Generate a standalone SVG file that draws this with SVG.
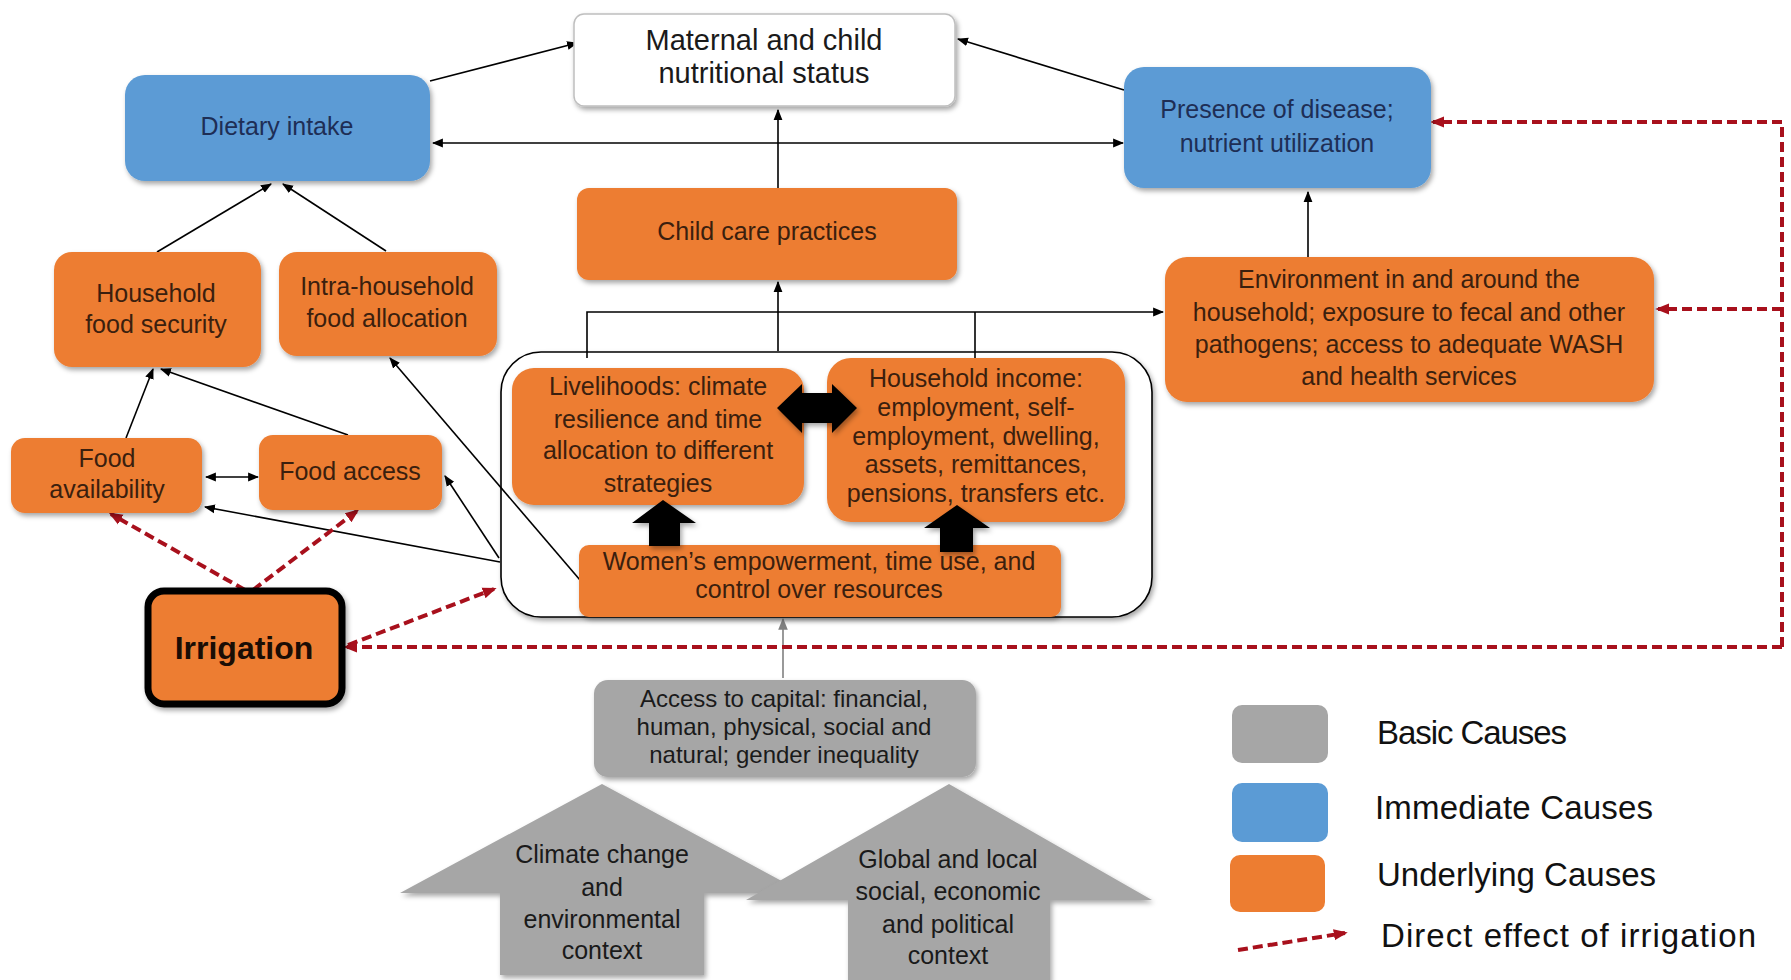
<svg xmlns="http://www.w3.org/2000/svg" width="1791" height="980" viewBox="0 0 1791 980">
<style>
text{font-family:"Liberation Sans",Arial,sans-serif}
.t{font-size:25px;fill:#3b1f0e;text-anchor:middle}
.tn{font-size:25px;fill:#1e2e55;text-anchor:middle}
.tg{font-size:24px;fill:#1a1a1a;text-anchor:middle}
.o{fill:#ed7d31;filter:url(#sh)}
.b{fill:#5b9bd5;filter:url(#sh)}
.g{fill:#a6a6a6;filter:url(#sh)}
.c{stroke:#000;stroke-width:1.6;fill:none}
.d{stroke:#a8101c;stroke-width:4;stroke-dasharray:10 5;fill:none}
.lg{font-size:33px;fill:#111}
</style>
<defs>
<filter id="sh" x="-10%" y="-10%" width="120%" height="130%">
<feDropShadow dx="2" dy="3" stdDeviation="2.5" flood-color="#000" flood-opacity="0.35"/>
</filter>
<marker id="ah" viewBox="0 0 10 10" refX="9" refY="5" markerWidth="11" markerHeight="11" markerUnits="userSpaceOnUse" orient="auto-start-reverse"><path d="M0,1 L10,5 L0,9z" fill="#000"/></marker>
<marker id="ag" viewBox="0 0 10 10" refX="9" refY="5" markerWidth="12" markerHeight="12" markerUnits="userSpaceOnUse" orient="auto-start-reverse"><path d="M0,1 L10,5 L0,9z" fill="#808080"/></marker>
<marker id="ar" viewBox="0 0 10 10" refX="8" refY="5" markerWidth="14" markerHeight="14" markerUnits="userSpaceOnUse" orient="auto-start-reverse"><path d="M0,1 L10,5 L0,9z" fill="#a8101c"/></marker>
</defs>
<rect width="1791" height="980" fill="#fff"/>

<g id="container"><rect x="501" y="352" width="651" height="265" rx="40" fill="#fff" stroke="#000" stroke-width="1.6" filter="url(#sh)"/></g>

<g id="connectors">
<line class="c" x1="430" y1="81" x2="577" y2="43" marker-end="url(#ah)"/>
<line class="c" x1="1124" y1="90" x2="958" y2="39" marker-end="url(#ah)"/>
<line class="c" x1="433" y1="143" x2="1123" y2="143" marker-start="url(#ah)" marker-end="url(#ah)"/>
<line class="c" x1="778" y1="188" x2="778" y2="110" marker-end="url(#ah)"/>
<line class="c" x1="778" y1="351" x2="778" y2="282" marker-end="url(#ah)"/>
<path class="c" d="M587,358 V312 H1163" marker-end="url(#ah)"/>
<path class="c" d="M975,312 V358"/>
<line class="c" x1="1308" y1="257" x2="1308" y2="192" marker-end="url(#ah)"/>
<line class="c" x1="157" y1="252" x2="271" y2="184" marker-end="url(#ah)"/>
<line class="c" x1="386" y1="251" x2="283" y2="184" marker-end="url(#ah)"/>
<line class="c" x1="126" y1="438" x2="153" y2="369" marker-end="url(#ah)"/>
<line class="c" x1="348" y1="435" x2="161" y2="369" marker-end="url(#ah)"/>
<line class="c" x1="206" y1="477" x2="258" y2="477" marker-start="url(#ah)" marker-end="url(#ah)"/>
<line class="c" x1="500" y1="562" x2="205" y2="507" marker-end="url(#ah)"/>
<line class="c" x1="499" y1="558" x2="445" y2="476" marker-end="url(#ah)"/>
<line class="c" x1="580" y1="580" x2="390" y2="358" marker-end="url(#ah)"/>
<line x1="783" y1="678" x2="783" y2="619" stroke="#808080" stroke-width="1.6" marker-end="url(#ag)"/>
<line class="d" x1="245" y1="590" x2="111" y2="514" marker-end="url(#ar)"/>
<line class="d" x1="253" y1="590" x2="357" y2="511" marker-end="url(#ar)"/>
<line class="d" x1="348" y1="645" x2="494" y2="589" marker-end="url(#ar)"/>
<path class="d" d="M1782,647 H346" marker-end="url(#ar)"/>
<path class="d" d="M1782,647 V122 H1433" marker-end="url(#ar)"/>
<path class="d" d="M1782,309 H1658" marker-end="url(#ar)"/>
</g>

<g id="maternal"><rect x="574" y="14" width="381" height="92" rx="10" fill="#fff" stroke="#bfbfbf" stroke-width="1.5" filter="url(#sh)"/>
<text x="764" y="50" style="font-size:29px;fill:#1a1a1a;text-anchor:middle">Maternal and child</text>
<text x="764" y="83" style="font-size:29px;fill:#1a1a1a;text-anchor:middle">nutritional status</text></g>

<g id="dietary"><rect class="b" x="125" y="75" width="305" height="106" rx="20"/>
<text class="tn" x="277" y="135">Dietary intake</text></g>

<g id="presence"><rect class="b" x="1124" y="67" width="307" height="121" rx="20"/>
<text class="tn" x="1277" y="118">Presence of disease;</text>
<text class="tn" x="1277" y="152">nutrient utilization</text></g>

<g id="childcare"><rect class="o" x="577" y="188" width="380" height="92" rx="12"/>
<text class="t" x="767" y="240">Child care practices</text></g>

<g id="environment"><rect class="o" x="1165" y="257" width="489" height="145" rx="22"/>
<text class="t" x="1409" y="288">Environment in and around the</text>
<text class="t" x="1409" y="321">household; exposure to fecal and other</text>
<text class="t" x="1409" y="353">pathogens; access to adequate WASH</text>
<text class="t" x="1409" y="385">and health services</text></g>

<g id="hfs"><rect class="o" x="54" y="252" width="207" height="115" rx="18"/>
<text class="t" x="156" y="302">Household</text>
<text class="t" x="156" y="333">food security</text></g>

<g id="intra"><rect class="o" x="279" y="252" width="218" height="104" rx="18"/>
<text class="t" x="387" y="295">Intra-household</text>
<text class="t" x="387" y="327">food allocation</text></g>

<g id="foodavail"><rect class="o" x="11" y="438" width="191" height="75" rx="14"/>
<text class="t" x="107" y="467">Food</text>
<text class="t" x="107" y="498">availability</text></g>

<g id="foodaccess"><rect class="o" x="259" y="435" width="183" height="75" rx="14"/>
<text class="t" x="350" y="480">Food access</text></g>

<g id="irrigation"><rect x="148" y="591" width="194" height="113" rx="16" fill="#ed7d31" stroke="#000" stroke-width="7" filter="url(#sh)"/>
<text x="244" y="659" style="font-size:32px;font-weight:bold;fill:#1a0d05;text-anchor:middle">Irrigation</text></g>

<g id="livelihoods"><rect class="o" x="512" y="368" width="292" height="137" rx="22"/>
<text class="t" x="658" y="395">Livelihoods: climate</text>
<text class="t" x="658" y="428">resilience and time</text>
<text class="t" x="658" y="459">allocation to different</text>
<text class="t" x="658" y="492">strategies</text></g>

<g id="income"><rect class="o" x="827" y="358" width="298" height="164" rx="24"/>
<text class="t" x="976" y="387">Household income:</text>
<text class="t" x="976" y="416">employment, self-</text>
<text class="t" x="976" y="445">employment, dwelling,</text>
<text class="t" x="976" y="473">assets, remittances,</text>
<text class="t" x="976" y="502">pensions, transfers etc.</text></g>

<g id="women"><rect class="o" x="579" y="545" width="482" height="72" rx="10"/>
<text class="t" x="819" y="570">Women’s empowerment, time use, and</text>
<text class="t" x="819" y="598">control over resources</text></g>

<g id="bigarrows">
<polygon points="777,408 802,384 802,393 832,393 832,384 857,408 832,433 832,423 802,423 802,433" fill="#000" filter="url(#sh)"/>
<polygon points="663,500 696,523 680,523 680,546 649,546 649,523 632,523" fill="#000" filter="url(#sh)"/>
<polygon points="957,505 990,528 973,528 973,552 940,552 940,528 924,528" fill="#000" filter="url(#sh)"/>
</g>

<g id="capital"><rect class="g" x="594" y="680" width="382" height="97" rx="14"/>
<text class="tg" x="784" y="707">Access to capital: financial,</text>
<text class="tg" x="784" y="735">human, physical, social and</text>
<text class="tg" x="784" y="763">natural; gender inequality</text></g>

<g id="climate"><polygon class="g" points="602,784 804,893 704,893 704,975 500,975 500,893 400,893"/>
<text class="tg" style="font-size:25px" x="602" y="863">Climate change</text>
<text class="tg" style="font-size:25px" x="602" y="896">and</text>
<text class="tg" style="font-size:25px" x="602" y="928">environmental</text>
<text class="tg" style="font-size:25px" x="602" y="959">context</text></g>

<g id="global"><polygon class="g" points="949,784 1152,900 1050,900 1050,982 848,982 848,900 746,900"/>
<text class="tg" style="font-size:25px" x="948" y="868">Global and local</text>
<text class="tg" style="font-size:25px" x="948" y="900">social, economic</text>
<text class="tg" style="font-size:25px" x="948" y="933">and political</text>
<text class="tg" style="font-size:25px" x="948" y="964">context</text></g>

<g id="legend">
<rect x="1232" y="705" width="96" height="58" rx="10" fill="#a6a6a6"/>
<rect x="1232" y="783" width="96" height="59" rx="10" fill="#5b9bd5"/>
<rect x="1230" y="855" width="95" height="57" rx="10" fill="#ed7d31"/>
<line class="d" x1="1238" y1="950" x2="1345" y2="933" marker-end="url(#ar)"/>
<text class="lg" x="1377" y="744" textLength="190" lengthAdjust="spacing">Basic Causes</text>
<text class="lg" x="1375" y="819" textLength="278" lengthAdjust="spacing">Immediate Causes</text>
<text class="lg" x="1377" y="886" textLength="279" lengthAdjust="spacing">Underlying Causes</text>
<text class="lg" x="1381" y="947" textLength="375" lengthAdjust="spacing">Direct effect of irrigation</text>
</g>
</svg>
